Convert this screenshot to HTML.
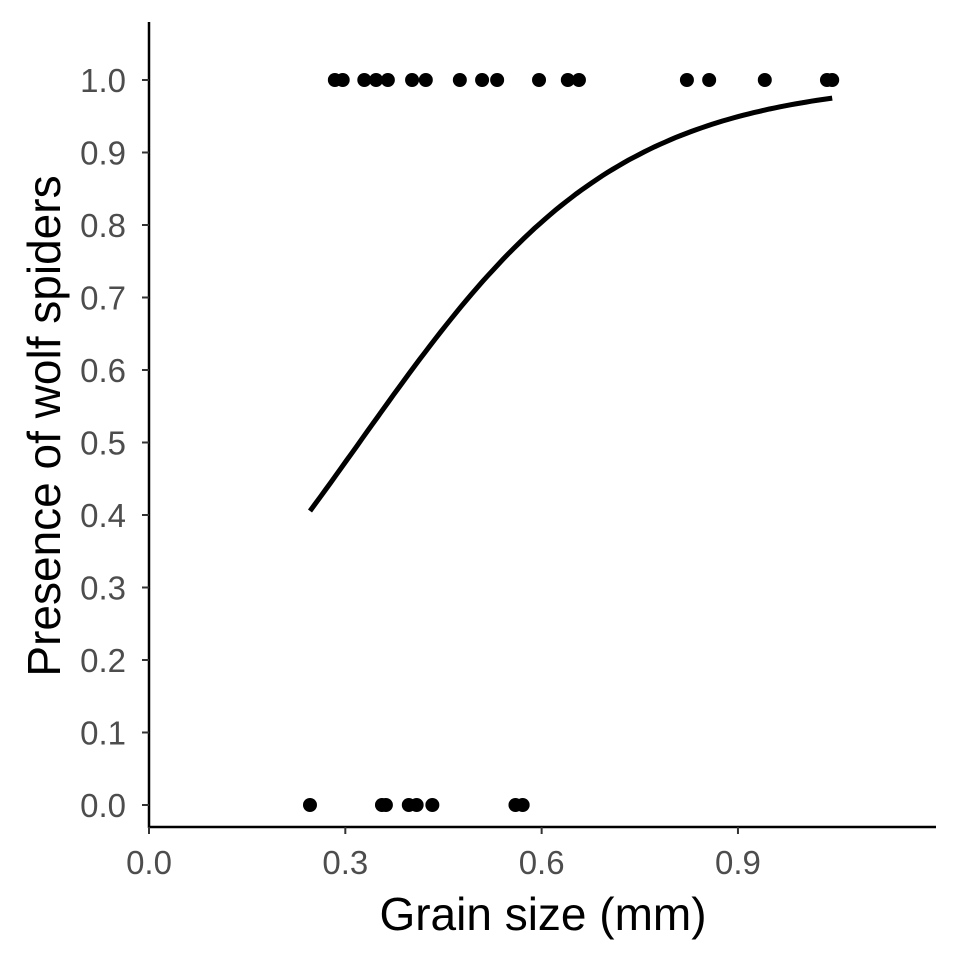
<!DOCTYPE html>
<html><head><meta charset="utf-8"><style>body{margin:0;background:#fff}svg{display:block}text{font-family:"Liberation Sans",Arial,sans-serif}</style></head>
<body>
<svg id="chart" width="960" height="960" viewBox="0 0 960 960" xmlns="http://www.w3.org/2000/svg">
<g id="axes"></g>
<g id="marks"></g>
<text x="543" y="930" font-size="46" text-anchor="middle" fill="#000">Grain size (mm)</text>
<text transform="translate(60,426) rotate(-90)" font-size="46" text-anchor="middle" fill="#000">Presence of wolf spiders</text>
</svg>
<script>
const presentX = [0.284,0.296,0.329,0.347,0.365,0.402,0.423,0.475,0.509,0.532,0.596,0.640,0.657,0.822,0.856,0.941,1.036,1.044];
const absentX = [0.246,0.356,0.362,0.397,0.409,0.433,0.560,0.571];
const fitCoef = [-1.63, 5.07];
const fitRange = [0.246, 1.044];
const xTicks = [0.0,0.3,0.6,0.9];
const xTickLabels = ["0.0","0.3","0.6","0.9"];
const yTicks = [0,0.1,0.2,0.3,0.4,0.5,0.6,0.7,0.8,0.9,1.0];
const yTickLabels = ["0.0","0.1","0.2","0.3","0.4","0.5","0.6","0.7","0.8","0.9","1.0"];

const sx = v => 149 + v*654.4;
const sy = v => 805 - v*725;
const NS = "http://www.w3.org/2000/svg";
function mk(tag, attrs, parent){const e=document.createElementNS(NS,tag);for(const k in attrs)e.setAttribute(k,attrs[k]);parent.appendChild(e);return e;}
const axes=document.getElementById('axes'), marks=document.getElementById('marks');
let l=mk('line',{x1:149,y1:22,x2:149,y2:828,stroke:'#000','stroke-width':2.5},axes);


l=mk('line',{x1:148,y1:827,x2:936,y2:827,stroke:'#000','stroke-width':2.5},axes);


xTicks.forEach((v,i)=>{
  const t=mk('line',{x1:sx(v),y1:827,x2:sx(v),y2:834,stroke:'#333','stroke-width':2},axes);
  
  
  const tx=mk('text',{x:sx(v),y:874,'font-size':33,'text-anchor':'middle',fill:'#4d4d4d'},axes);
  tx.textContent=xTickLabels[i];
  
  
});
yTicks.forEach((v,i)=>{
  const t=mk('line',{x1:142,y1:sy(v),x2:149,y2:sy(v),stroke:'#333','stroke-width':2},axes);
  
  
  const tx=mk('text',{x:126,y:sy(v)+12,'font-size':33,'text-anchor':'end',fill:'#4d4d4d'},axes);
  tx.textContent=yTickLabels[i];
  
  
});
let d='';
for(let i=0;i<=100;i++){const x=fitRange[0]+(fitRange[1]-fitRange[0])*i/100;const y=1/(1+Math.exp(-(fitCoef[0]+fitCoef[1]*x)));d+=(i?'L':'M')+sx(x).toFixed(1)+','+sy(y).toFixed(1);}
const p=mk('path',{d:d,fill:'none',stroke:'#000','stroke-width':5},marks);


presentX.forEach(v=>{
  const c=mk('circle',{cx:sx(v),cy:sy(1),r:7,fill:'#000'},marks);
  
  
});
absentX.forEach(v=>{
  const c=mk('circle',{cx:sx(v),cy:sy(0),r:7,fill:'#000'},marks);
  
  
});
</script>
</body></html>
